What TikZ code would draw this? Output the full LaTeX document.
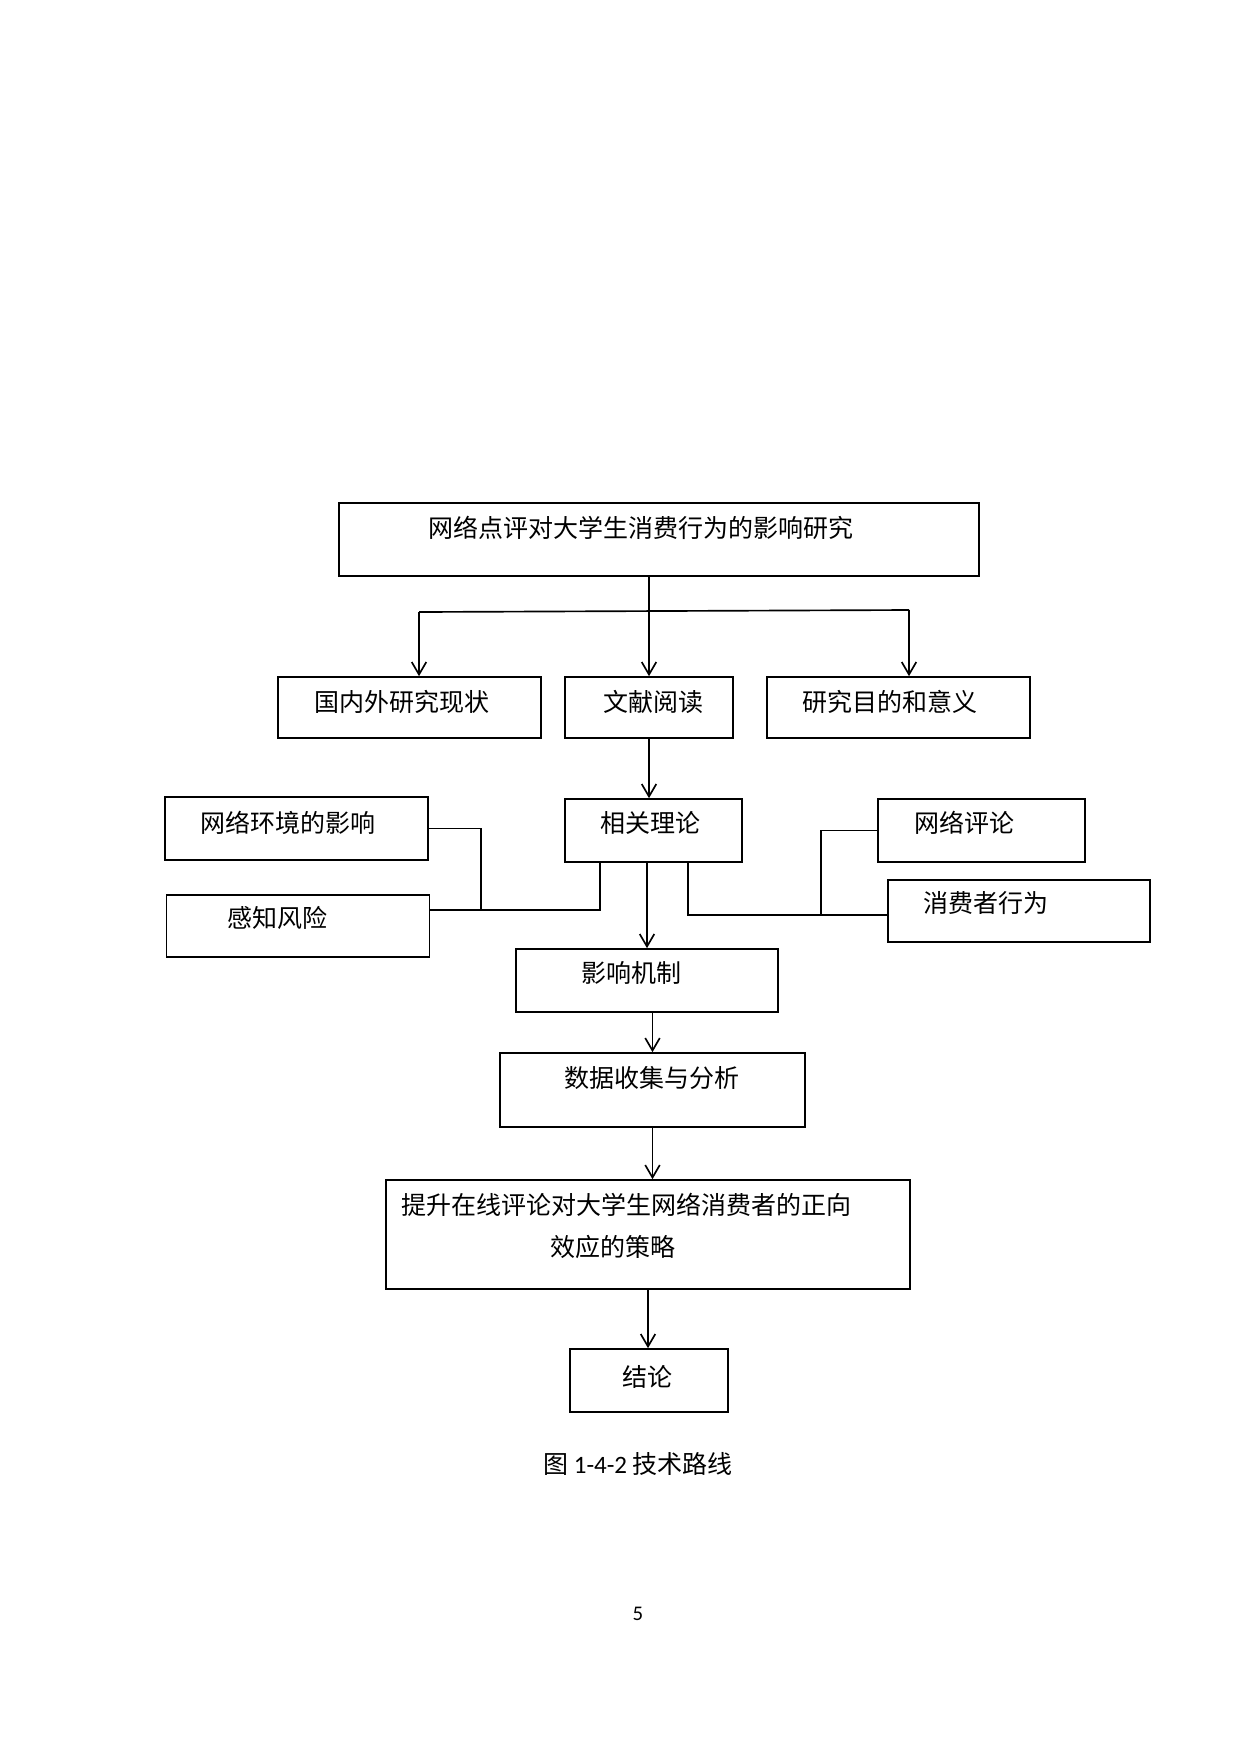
\documentclass[tikz,border=0pt]{standalone}
\usepackage{fontspec}
\setmainfont{Carlito}
\newfontfamily\cjk{Noto Sans CJK SC}
\usetikzlibrary{arrows.meta}
\newcommand{\pxu}{0.48pt}
\tikzset{
  box/.style 2 args={draw, line width=0.8pt, inner sep=0pt, minimum width=#1*\pxu, minimum height=#2*\pxu},
  arr/.style={line width=0.8pt, -{Straight Barb[length=6pt,width=7pt]}},
  wire/.style={line width=0.8pt},
  lbl/.style={inner sep=0pt, font=\cjk\fontsize{12}{14}\selectfont},
}
\begin{document}
\begin{tikzpicture}[x=0.48pt, y=-0.48pt]
\useasboundingbox (0,0) rectangle (1240,1754);
% boxes
\node[box={640}{73}] (top) at (659,539.5) {};
\node[box={263}{61}] (dom) at (409.5,707.5) {};
\node[box={168}{61}] (lit) at (649,707.5) {};
\node[box={263}{61}] (aim) at (898.5,707.5) {};
\node[box={263}{63}] (env) at (296.5,828.5) {};
\node[box={177}{63}] (theo) at (653.5,830.5) {};
\node[box={207}{63}] (rev) at (981.5,830.5) {};
\node[box={263}{62}] (risk) at (298,926) {};
\node[box={262}{62}] (cons) at (1019,911) {};
\node[box={262}{63}] (mech) at (647,980.5) {};
\node[box={305}{74}] (data) at (652.5,1090) {};
\node[box={524}{109}] (strat) at (648,1234.5) {};
\node[box={158}{63}] (concl) at (649,1380.5) {};
% texts
\node[lbl] (top-t) at (641,528) {网络点评对大学生消费行为的影响研究};
\node[lbl] (dom-t) at (402,702) {国内外研究现状};
\node[lbl] (lit-t) at (653,702) {文献阅读};
\node[lbl] (aim-t) at (890,702) {研究目的和意义};
\node[lbl] (env-t) at (288,823) {网络环境的影响};
\node[lbl] (theo-t) at (650,823) {相关理论};
\node[lbl] (rev-t) at (964,823) {网络评论};
\node[lbl] (risk-t) at (277,918) {感知风险};
\node[lbl] (cons-t) at (986,903) {消费者行为};
\node[lbl] (mech-t) at (631,973) {影响机制};
\node[lbl] (data-t) at (652,1078) {数据收集与分析};
\node[lbl] (strat-t1) at (626,1205) {提升在线评论对大学生网络消费者的正向};
\node[lbl] (strat-t2) at (613,1247) {效应的策略};
\node[lbl] (concl-t) at (647,1377) {结论};
\node[inner sep=0pt, font=\fontsize{12}{14}\selectfont] (cap) at (638,1464) {{\cjk 图} 1-4-2 {\cjk 技术路线}};
\node[inner sep=0pt, font=\fontsize{10}{12}\selectfont] (pg) at (638,1614) {5};
% top split
\coordinate (bl) at (419,612);
\coordinate (br) at (909,610);
\draw[arr] (top.south -| lit.north) -- (lit.north);
\draw[wire] (bl) -- (br);
\draw[arr] (bl) -- (bl |- dom.north);
\draw[arr] (br) -- (br |- aim.north);
\draw[arr] (lit.south) -- (lit.south |- theo.north);
% left join
\coordinate (ljoin) at (481,910);
\coordinate (lup) at (600,910);
\draw[wire] (env.east) -| (ljoin);
\draw[wire] (risk.east |- ljoin) -- (lup) -- (lup |- theo.south);
% right join
\coordinate (rdown) at (688,915);
\coordinate (rjoin) at (821,915);
\draw[wire] (rdown |- theo.south) -- (rdown) -- (rjoin);
\draw[wire] (rev.west) -| (rjoin) -- (rjoin -| cons.west);
% main chain
\draw[arr] (theo.south -| mech.north) -- (mech.north);
\draw[arr] (mech.south -| data.north) -- (data.north);
\draw[arr] (data.south) -- (data.south |- strat.north);
\draw[arr] (strat.south) -- (strat.south |- concl.north);
\end{tikzpicture}
\end{document}
